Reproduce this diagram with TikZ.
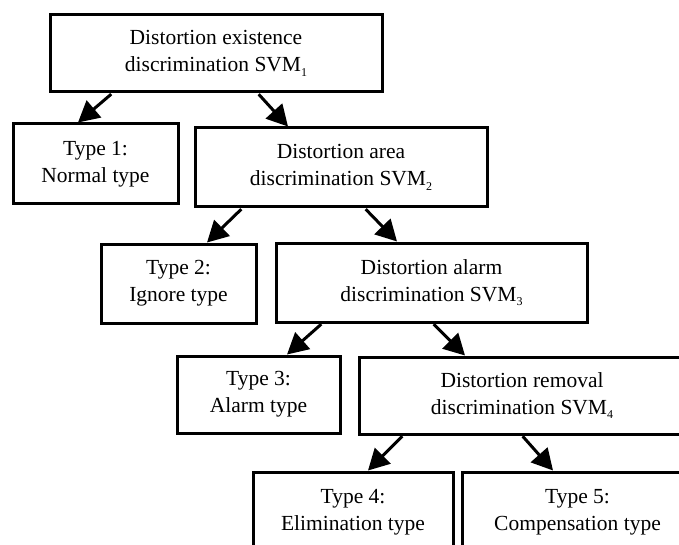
\documentclass[tikz,border=0pt]{standalone}
\usepackage{fontspec}
\setmainfont{Liberation Serif}
\usetikzlibrary{arrows.meta}
\newcommand{\sbx}[1]{\raisebox{-0.45ex}{\fontsize{12}{12}\selectfont #1}}
\tikzset{
  box/.style={draw=black, line width=3pt, align=center, inner sep=0pt,
    font=\fontsize{21.5}{27}\selectfont},
  arr/.style={line width=3pt, -{Triangle[length=21pt,width=22pt]}, shorten <=1pt}
}
\begin{document}
\begin{tikzpicture}[x=1pt,y=-1pt]
\useasboundingbox (0,0) rectangle (679,545);
\clip (0,0) rectangle (679,545);
\node[box, minimum width=332pt, minimum height=77pt] (b1) at (216,53.5) {Distortion existence\\discrimination SVM\sbx{1}};
\node[box, minimum width=165pt, minimum height=80pt] (t1) at (95.5,164) {Type 1:\\Normal type};
\node[box, minimum width=292pt, minimum height=79pt] (b2) at (341,167.5) {Distortion area\\discrimination SVM\sbx{2}};
\node[box, minimum width=155pt, minimum height=79pt] (t2) at (178.5,283.5) {Type 2:\\Ignore type};
\node[box, minimum width=311pt, minimum height=79pt] (b3) at (431.5,282.5) {Distortion alarm\\discrimination SVM\sbx{3}};
\node[box, minimum width=163pt, minimum height=77pt] (t3) at (258.5,394.5) {Type 3:\\Alarm type};
\node[box, minimum width=326pt, minimum height=77pt] (b4) at (522,395.5) {Distortion removal\\discrimination SVM\sbx{4}};
\node[box, minimum width=200pt, minimum height=80pt] (t4) at (353,512) {Type 4:\\Elimination type};
\node[box, minimum width=231pt, minimum height=80pt] (t5) at (577.5,512) {Type 5:\\Compensation type};

\draw[arr] ([xshift=-104pt]b1.south) -- ([xshift=-17.5pt]t1.north);
\draw[arr] ([xshift=42pt]b1.south) -- ([xshift=-53pt]b2.north);
\draw[arr] ([xshift=-99pt]b2.south) -- ([xshift=28.5pt]t2.north);
\draw[arr] ([xshift=24pt]b2.south) -- ([xshift=-34.5pt]b3.north);
\draw[arr] ([xshift=-109.5pt]b3.south) -- ([xshift=28.5pt]t3.north);
\draw[arr] ([xshift=1.5pt]b3.south) -- ([xshift=-57pt]b4.north);
\draw[arr] ([xshift=-119pt]b4.south) -- ([xshift=15pt]t4.north);
\draw[arr] ([xshift=0pt]b4.south) -- ([xshift=-24.5pt]t5.north);
\end{tikzpicture}
\end{document}
